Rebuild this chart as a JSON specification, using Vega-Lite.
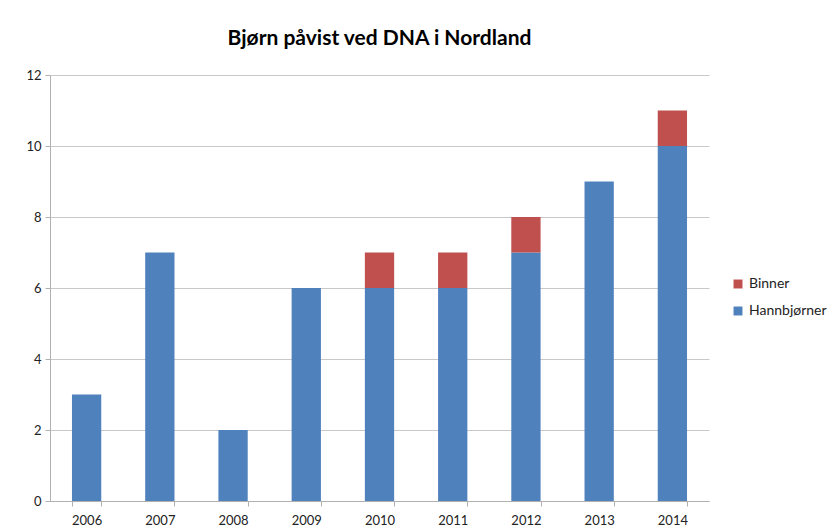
{
  "$schema": "https://vega.github.io/schema/vega-lite/v6.json",
  "width": 659,
  "height": 426,
  "padding": {"left": 25, "top": 28, "right": 5, "bottom": 5},
  "background": "white",
  "title": {
    "text": "Bjørn påvist ved DNA i Nordland",
    "font": "Lato",
    "fontSize": 21,
    "fontWeight": "bold",
    "color": "#000000",
    "anchor": "middle",
    "offset": 20
  },
  "data": {
    "values": [
      {"year": "2006", "serie": "Hannbjørner", "antall": 3},
      {"year": "2007", "serie": "Hannbjørner", "antall": 7},
      {"year": "2008", "serie": "Hannbjørner", "antall": 2},
      {"year": "2009", "serie": "Hannbjørner", "antall": 6},
      {"year": "2010", "serie": "Hannbjørner", "antall": 6},
      {"year": "2010", "serie": "Binner", "antall": 1},
      {"year": "2011", "serie": "Hannbjørner", "antall": 6},
      {"year": "2011", "serie": "Binner", "antall": 1},
      {"year": "2012", "serie": "Hannbjørner", "antall": 7},
      {"year": "2012", "serie": "Binner", "antall": 1},
      {"year": "2013", "serie": "Hannbjørner", "antall": 9},
      {"year": "2014", "serie": "Hannbjørner", "antall": 10},
      {"year": "2014", "serie": "Binner", "antall": 1}
    ]
  },
  "mark": {"type": "bar"},
  "encoding": {
    "x": {
      "field": "year",
      "type": "ordinal",
      "scale": {"paddingInner": 0.6, "paddingOuter": 0.3},
      "axis": {
        "title": null,
        "labelAngle": 0,
        "tickBand": "extent",
        "tickSize": 5,
        "labelPadding": 8,
        "grid": false
      }
    },
    "y": {
      "field": "antall",
      "type": "quantitative",
      "stack": "zero",
      "scale": {"domain": [0, 12]},
      "axis": {
        "title": null,
        "values": [0, 2, 4, 6, 8, 10, 12],
        "tickSize": 5,
        "labelPadding": 4,
        "grid": true
      }
    },
    "color": {
      "field": "serie",
      "type": "nominal",
      "scale": {"domain": ["Binner", "Hannbjørner"], "range": ["#C0504D", "#4F81BD"]},
      "legend": {
        "title": null,
        "orient": "none",
        "legendX": 681,
        "legendY": 202,
        "symbolType": "square",
        "symbolSize": 80,
        "rowPadding": 13,
        "labelFontSize": 14,
        "labelFont": "Lato",
        "labelColor": "#222222"
      }
    },
    "order": {"field": "serie", "sort": "descending"}
  },
  "config": {
    "view": {"stroke": null},
    "axis": {
      "labelFont": "Lato",
      "labelFontSize": 13,
      "labelColor": "#222222",
      "domainColor": "#B0B0B0",
      "tickColor": "#B0B0B0",
      "gridColor": "#C8C8C8",
      "domainWidth": 1,
      "tickWidth": 1
    }
  }
}
